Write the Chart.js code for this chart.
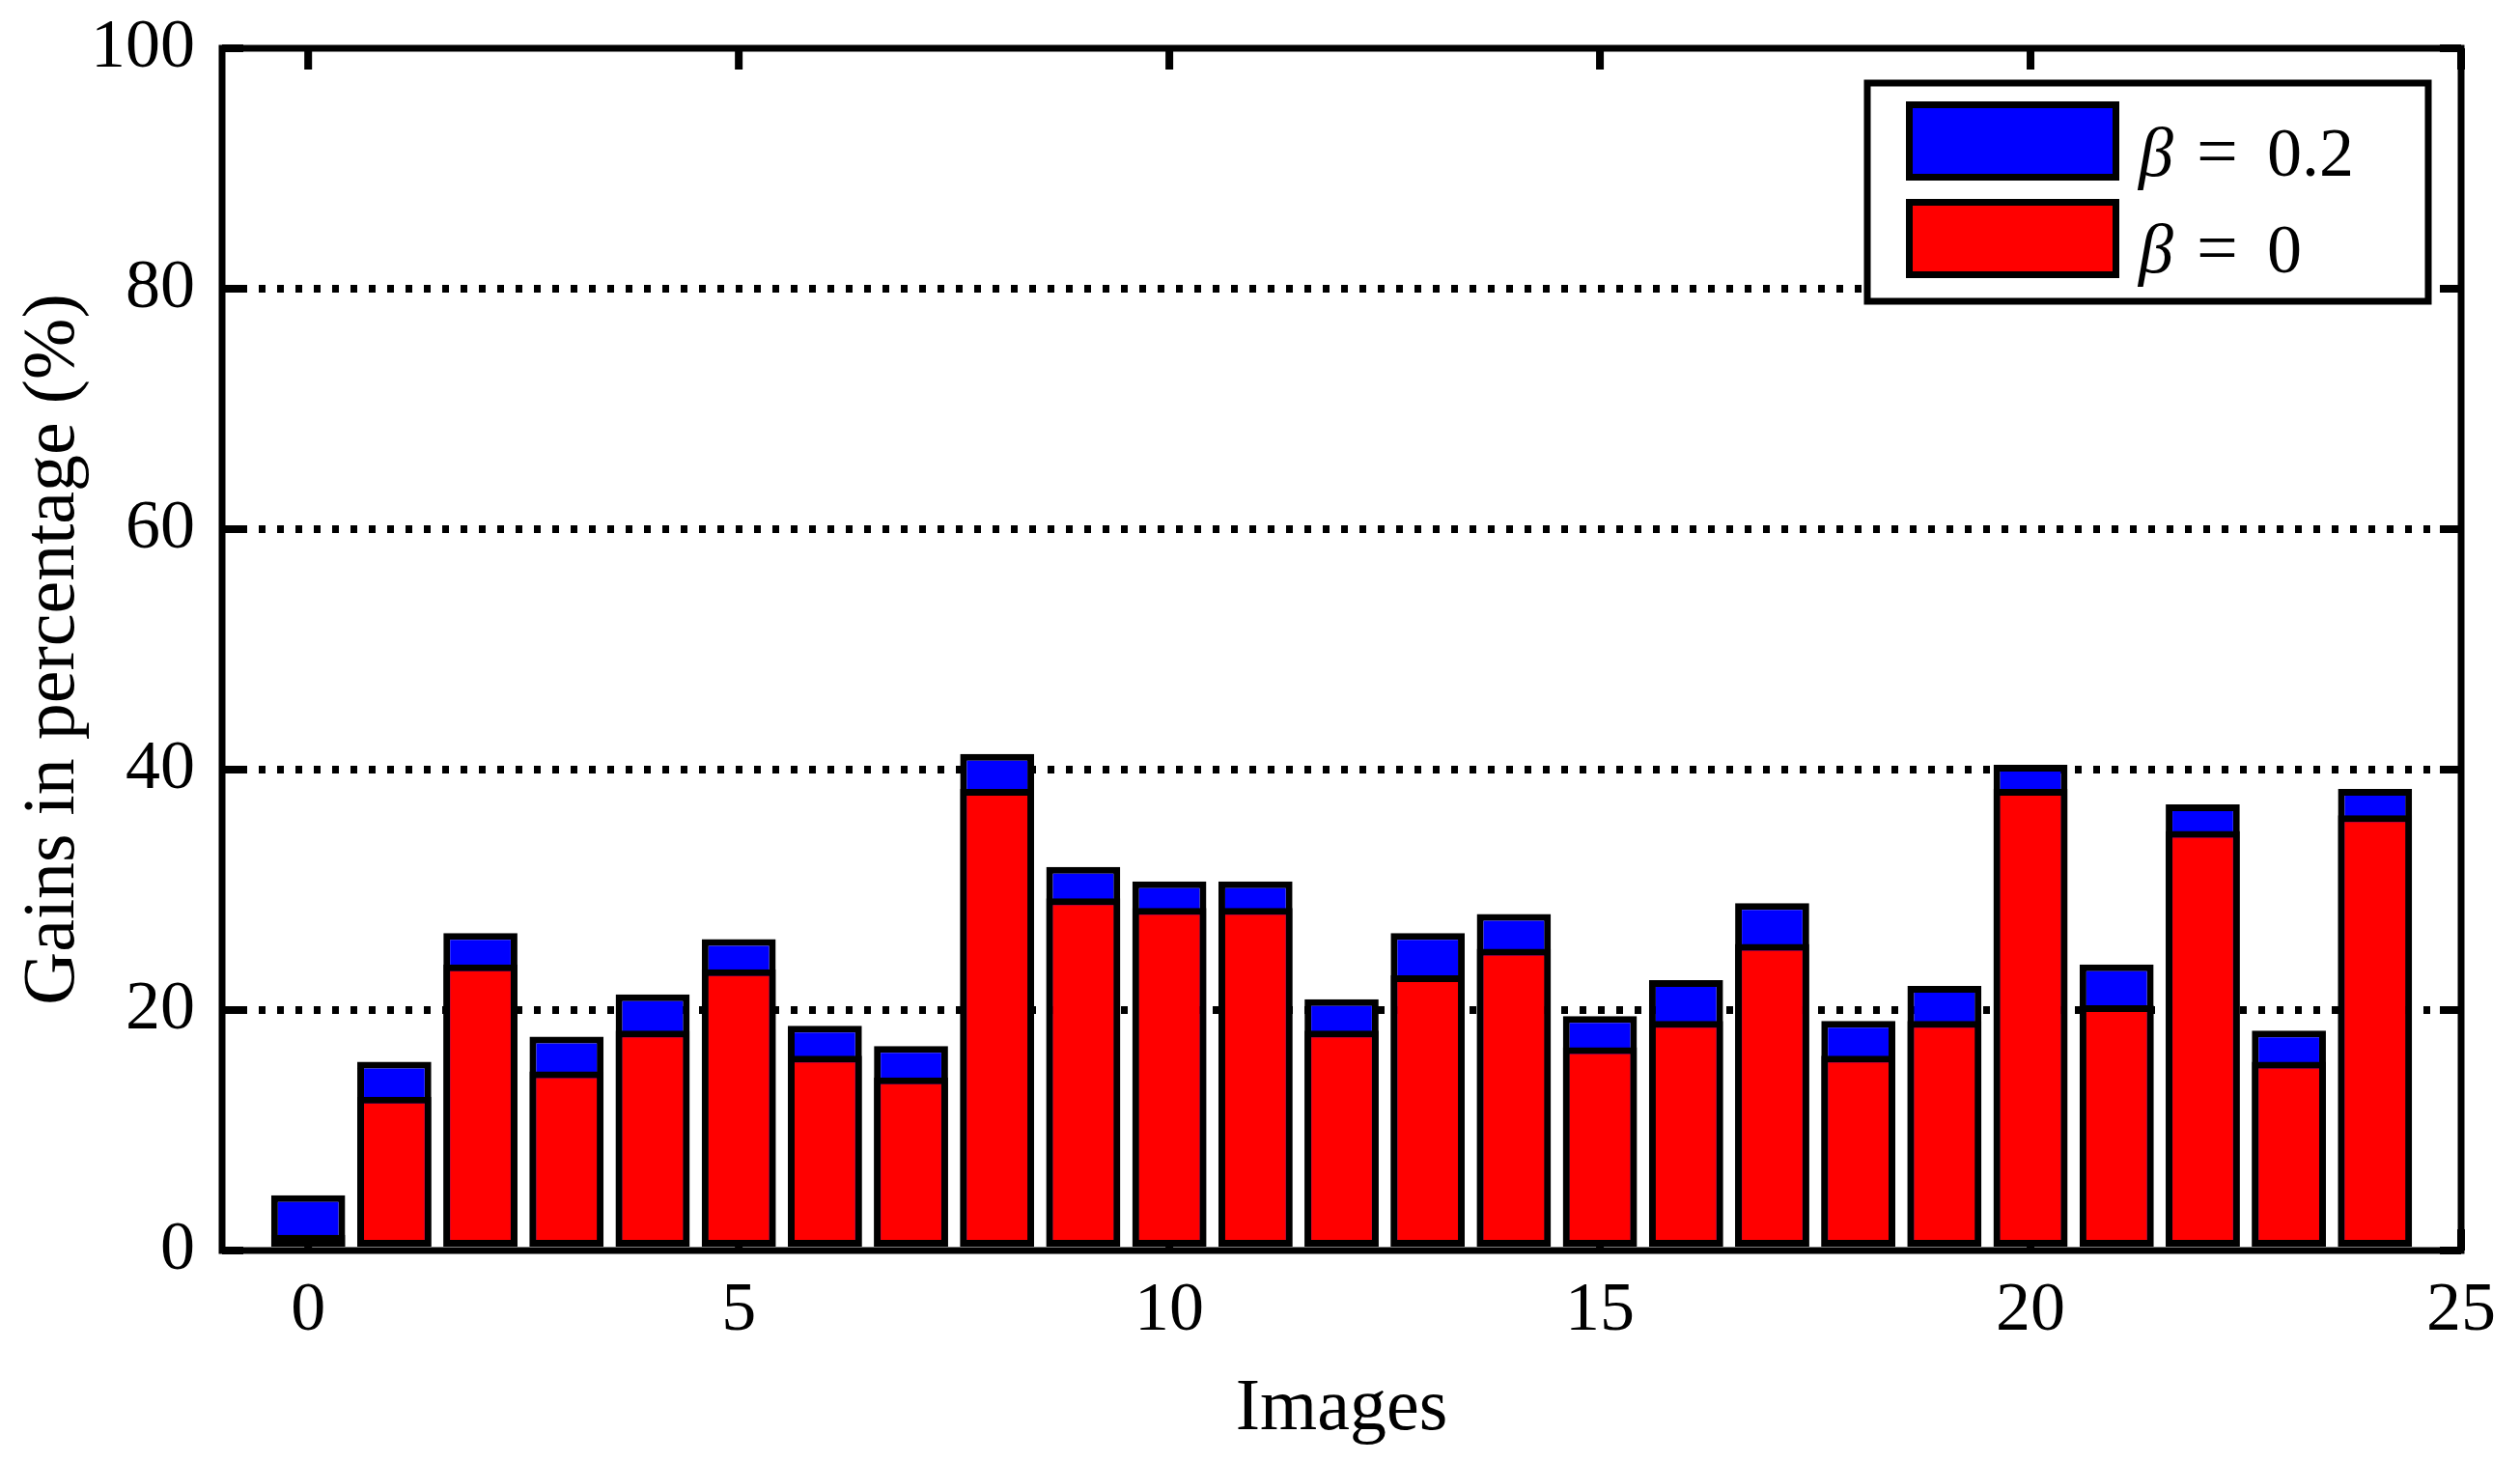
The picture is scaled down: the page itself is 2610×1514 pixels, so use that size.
<!DOCTYPE html>
<html>
<head>
<meta charset="utf-8">
<title>Gains in percentage</title>
<script src="https://cdn.jsdelivr.net/npm/chart.js@4.4.1/dist/chart.umd.min.js"></script>
<style>
  html, body { margin: 0; padding: 0; background: #fff; }
  canvas { display: block; }
</style>
</head>
<body>
<canvas id="gains" width="2610" height="1514"></canvas>
<script>
// data
const images = [0, 1, 2, 3, 4, 5, 6, 7, 8, 9, 10, 11, 12, 13, 14, 15, 16, 17, 18, 19, 20, 21, 22, 23, 24];
const gainBeta0 = [1.3, 12.8, 23.8, 14.9, 18.3, 23.4, 16.2, 14.4, 38.4, 29.3, 28.5, 28.5, 18.3,
    22.9, 25.1, 16.9, 19.1, 25.5, 16.2, 19.1, 38.4, 20.4, 34.9, 15.7, 36.2];
const gainBeta02 = [4.6, 15.7, 26.4, 17.8, 21.3, 25.9, 18.7, 17.0, 41.3, 31.9, 30.7, 30.7, 20.9,
    26.4, 28.0, 19.5, 22.5, 28.9, 19.1, 22.0, 40.4, 23.8, 37.1, 18.3, 38.4];
const xTicks = [0, 5, 10, 15, 20, 25];
const yTicks = [0, 20, 40, 60, 80, 100];

const FONT = "'Liberation Serif', 'Times New Roman', serif";

function toPoints(values){
    return images.map((img, i) => ({x: img, y: values[i]}));
}

// inward ticks, box frame and the legend drawn like the matlab figure
const matlabAxes = {
    id: 'matlabAxes',
    beforeDatasetsDraw(chart){
        const {ctx, chartArea: a, scales: {x, y}} = chart;
        ctx.save();
        ctx.strokeStyle = '#000';
        ctx.lineWidth = 8;
        ctx.beginPath();
        xTicks.forEach(v => {
            const px = x.getPixelForValue(v);
            ctx.moveTo(px, a.top); ctx.lineTo(px, a.top + 22);
            ctx.moveTo(px, a.bottom); ctx.lineTo(px, a.bottom - 22);
        });
        yTicks.forEach(v => {
            const py = y.getPixelForValue(v);
            ctx.moveTo(a.left, py); ctx.lineTo(a.left + 22, py);
            ctx.moveTo(a.right, py); ctx.lineTo(a.right - 22, py);
        });
        ctx.stroke();
        ctx.restore();
    },
    afterDatasetsDraw(chart){
        const {ctx, chartArea: a} = chart;
        ctx.save();
        ctx.strokeStyle = '#000';
        ctx.lineWidth = 7;
        ctx.strokeRect(a.left, a.top, a.right - a.left, a.bottom - a.top);
        ctx.restore();
    },
    afterDraw(chart){
        const {ctx, chartArea: a} = chart;
        const w = 581, h = 226;
        const left = a.right - 34 - w;
        const top = a.top + 36;
        ctx.save();
        ctx.fillStyle = '#fff';
        ctx.fillRect(left, top, w, h);
        ctx.strokeStyle = '#000';
        ctx.lineWidth = 7;
        ctx.strokeRect(left, top, w, h);

        const items = chart.data.datasets.slice().reverse();
        items.forEach((ds, i) => {
            const sy = top + 19 + i * 101;
            ctx.fillStyle = ds.backgroundColor;
            ctx.fillRect(left + 40, sy, 221, 82);
            ctx.strokeRect(left + 43.5, sy + 3.5, 214, 75);

            const parts = ds.label.split(' = ');
            const base = top + 96 + i * 100;
            ctx.fillStyle = '#000';
            ctx.textBaseline = 'alphabetic';
            ctx.textAlign = 'left';
            ctx.font = 'italic 72px ' + FONT;
            ctx.fillText(parts[0], left + 281, base);
            ctx.font = '76px ' + FONT;
            ctx.fillText('=', left + 341, base);
            ctx.font = '72px ' + FONT;
            ctx.fillText(parts[1], left + 414, base);
        });
        ctx.restore();
    }
};

const ctx = document.getElementById('gains').getContext('2d');

new Chart(ctx, {
    type: 'bar',
    data: {
        datasets: [{
            label: 'β = 0',
            data: toPoints(gainBeta0),
            backgroundColor: '#ff0000',
            borderColor: '#000',
            borderWidth: 7,
            borderSkipped: false,
            grouped: false
        }, {
            label: 'β = 0.2',
            data: toPoints(gainBeta02),
            backgroundColor: '#0000ff',
            borderColor: '#000',
            borderWidth: 7,
            borderSkipped: false,
            grouped: false
        }]
    },
    options: {
        responsive: false,
        animation: false,
        devicePixelRatio: 1,
        layout: { padding: { top: 50, right: 61, left: 0, bottom: 0 } },
        datasets: { bar: { barPercentage: 0.86, categoryPercentage: 1 } },
        plugins: {
            legend: { display: false },
            tooltip: { enabled: false }
        },
        scales: {
            x: {
                type: 'linear',
                min: -1,
                max: 25,
                offset: false,
                afterBuildTicks: scale => { scale.ticks = xTicks.map(v => ({value: v})); },
                afterFit: scale => { scale.height = 219; },
                grid: { display: false, drawTicks: false, offset: false },
                border: { display: false },
                ticks: {
                    color: '#000',
                    padding: 20,
                    maxRotation: 0,
                    font: { family: FONT, size: 72 },
                    callback: v => String(v)
                },
                title: {
                    display: true,
                    text: 'Images',
                    color: '#000',
                    padding: { top: 0, bottom: 8 },
                    font: { family: FONT, size: 76 }
                }
            },
            y: {
                min: 0,
                max: 100,
                afterBuildTicks: scale => { scale.ticks = yTicks.map(v => ({value: v})); },
                afterFit: scale => {
                    scale.width = 230;
                    scale.paddingTop = 0;
                    scale.paddingBottom = 0;
                },
                grid: {
                    color: c => (c.tick && (c.tick.value === 0 || c.tick.value === 100)) ? 'rgba(0,0,0,0)' : '#000',
                    lineWidth: 8,
                    drawTicks: false,
                    borderDash: [7, 12]
                },
                border: { display: false, dash: [7, 12] },
                ticks: {
                    color: '#000',
                    padding: 28,
                    font: { family: FONT, size: 72 }
                },
                title: {
                    display: true,
                    text: 'Gains in percentage (%)',
                    color: '#000',
                    padding: { top: 10, bottom: 0 },
                    font: { family: FONT, size: 76 }
                }
            }
        }
    },
    plugins: [matlabAxes]
});
</script>
</body>
</html>
